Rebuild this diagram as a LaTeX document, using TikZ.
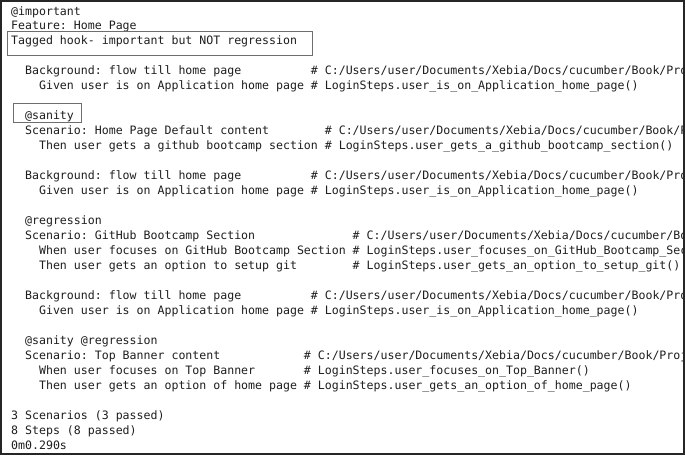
\documentclass[tikz,border=0pt]{standalone}
\usepackage{fontspec}
\newfontfamily\consfont{DejaVu Sans Mono}
\definecolor{hlgray}{HTML}{6E6E6E}
\definecolor{txtcol}{HTML}{1E1E1E}
\newcommand\cx[1]{11+#1*6.97}
\newcommand\ry[1]{15+#1*14.97}
\frenchspacing
\begin{document}
\begin{tikzpicture}[x=1pt,y=-1pt,
  txt/.style={anchor=base west,inner sep=0pt,text=txtcol,font=\consfont\frenchspacing\fontsize{11.58pt}{15pt}\selectfont},
  hl/.style={draw=hlgray,line width=1pt},
  frame/.style={draw=black!85,line width=1.6pt}]
\useasboundingbox (0,0) rectangle (685,455);
\fill[white] (0,0) rectangle (685,455);
\begin{scope}
\clip (1.5,1.5) rectangle (683.2,453.5);
\node[txt] (r0) at ({\cx{0}},{\ry{0}}) {@important};
\node[txt] (r1) at ({\cx{0}},{\ry{1}}) {Feature: Home Page};
\node[txt] (r2) at ({\cx{0}},{\ry{2}}) {Tagged hook- important but NOT regression};
\node[txt] (r4a) at ({\cx{2}},{\ry{4}}) {Background: flow till home page};
\node[txt] (r4b) at ({\cx{43}},{\ry{4}}) {\# C:/Users/user/Documents/Xebia/Docs/cucumber/Book/Pro};
\node[txt] (r5a) at ({\cx{4}},{\ry{5}}) {Given user is on Application home page};
\node[txt] (r5b) at ({\cx{43}},{\ry{5}}) {\# LoginSteps.user\_is\_on\_Application\_home\_page()};
\node[txt] (r7) at ({\cx{2}},{\ry{7}}) {@sanity};
\node[txt] (r8a) at ({\cx{2}},{\ry{8}}) {Scenario: Home Page Default content};
\node[txt] (r8b) at ({\cx{45}},{\ry{8}}) {\# C:/Users/user/Documents/Xebia/Docs/cucumber/Book/P};
\node[txt] (r9a) at ({\cx{4}},{\ry{9}}) {Then user gets a github bootcamp section};
\node[txt] (r9b) at ({\cx{45}},{\ry{9}}) {\# LoginSteps.user\_gets\_a\_github\_bootcamp\_section()};
\node[txt] (r11a) at ({\cx{2}},{\ry{11}}) {Background: flow till home page};
\node[txt] (r11b) at ({\cx{43}},{\ry{11}}) {\# C:/Users/user/Documents/Xebia/Docs/cucumber/Book/Pro};
\node[txt] (r12a) at ({\cx{4}},{\ry{12}}) {Given user is on Application home page};
\node[txt] (r12b) at ({\cx{43}},{\ry{12}}) {\# LoginSteps.user\_is\_on\_Application\_home\_page()};
\node[txt] (r14) at ({\cx{2}},{\ry{14}}) {@regression};
\node[txt] (r15a) at ({\cx{2}},{\ry{15}}) {Scenario: GitHub Bootcamp Section};
\node[txt] (r15b) at ({\cx{49}},{\ry{15}}) {\# C:/Users/user/Documents/Xebia/Docs/cucumber/Bo};
\node[txt] (r16a) at ({\cx{4}},{\ry{16}}) {When user focuses on GitHub Bootcamp Section};
\node[txt] (r16b) at ({\cx{49}},{\ry{16}}) {\# LoginSteps.user\_focuses\_on\_GitHub\_Bootcamp\_Sec};
\node[txt] (r17a) at ({\cx{4}},{\ry{17}}) {Then user gets an option to setup git};
\node[txt] (r17b) at ({\cx{49}},{\ry{17}}) {\# LoginSteps.user\_gets\_an\_option\_to\_setup\_git()};
\node[txt] (r19a) at ({\cx{2}},{\ry{19}}) {Background: flow till home page};
\node[txt] (r19b) at ({\cx{43}},{\ry{19}}) {\# C:/Users/user/Documents/Xebia/Docs/cucumber/Book/Pro};
\node[txt] (r20a) at ({\cx{4}},{\ry{20}}) {Given user is on Application home page};
\node[txt] (r20b) at ({\cx{43}},{\ry{20}}) {\# LoginSteps.user\_is\_on\_Application\_home\_page()};
\node[txt] (r22) at ({\cx{2}},{\ry{22}}) {@sanity @regression};
\node[txt] (r23a) at ({\cx{2}},{\ry{23}}) {Scenario: Top Banner content};
\node[txt] (r23b) at ({\cx{42}},{\ry{23}}) {\# C:/Users/user/Documents/Xebia/Docs/cucumber/Book/Proj};
\node[txt] (r24a) at ({\cx{4}},{\ry{24}}) {When user focuses on Top Banner};
\node[txt] (r24b) at ({\cx{42}},{\ry{24}}) {\# LoginSteps.user\_focuses\_on\_Top\_Banner()};
\node[txt] (r25a) at ({\cx{4}},{\ry{25}}) {Then user gets an option of home page};
\node[txt] (r25b) at ({\cx{42}},{\ry{25}}) {\# LoginSteps.user\_gets\_an\_option\_of\_home\_page()};
\node[txt] (r27) at ({\cx{0}},{\ry{27}}) {3 Scenarios (3 passed)};
\node[txt] (r28) at ({\cx{0}},{\ry{28}}) {8 Steps (8 passed)};
\node[txt] (r29) at ({\cx{0}},{\ry{29}}) {0m0.290s};
\end{scope}
\draw[hl] (7,31.5) rectangle (312.5,55.5);
\draw[hl] (13.3,103) rectangle (81,122);
\draw[frame] (0.8,0.8) rectangle (684.2,454.2);
\end{tikzpicture}
\end{document}
